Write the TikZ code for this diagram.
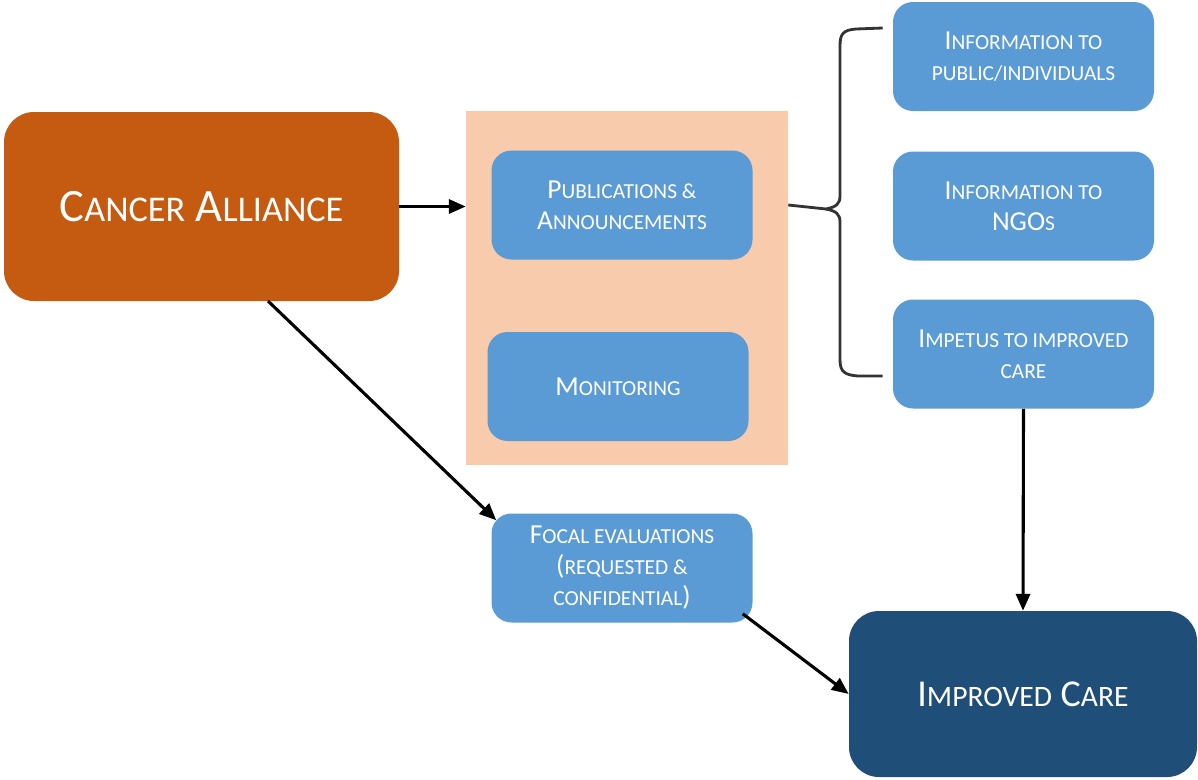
\documentclass[tikz,border=0pt]{standalone}
\usepackage{fontspec}
\usepackage{graphicx}
\setmainfont{Carlito}
\usetikzlibrary{arrows.meta}
\definecolor{orangeA}{HTML}{C55A11}
\definecolor{peach}{HTML}{F7CBAC}
\definecolor{blueA}{HTML}{5B9BD5}
\definecolor{navy}{HTML}{1F4E79}
\newcommand\lc[1]{\scalebox{0.78}{#1}}
\def\px{0.025cm}
\tikzset{
  box/.style={draw=none, fill=blueA, rounded corners=20*\px, text=white, align=center,
    inner sep=0pt, minimum width=261*\px, minimum height=109*\px,
    font=\fontsize{19.5}{22}\selectfont},
  bigbox/.style={draw=none, rounded corners=30*\px, text=white, align=center, inner sep=0pt},
  arr/.style={draw=black, line width=2.2pt, -{Triangle[length=12pt,width=10pt]}},
  brace/.style={draw=black!80, line width=2pt}
}
\begin{document}
\begin{tikzpicture}[x=0.025cm,y=-0.025cm]
\useasboundingbox (0,0) rectangle (1198,779);
% group background
\node[fill=peach, draw=none, minimum width=322*\px, minimum height=354*\px, inner sep=0pt] (group) at (627,288) {};
\node[bigbox, fill=orangeA, minimum width=395*\px, minimum height=189*\px,
  font=\fontsize{33}{38}\selectfont] (ca) at (201.5,206.5) {C\lc{ANCER} A\lc{LLIANCE}};
\node[box] (pub) at (622,205) {P\lc{UBLICATIONS \&}\\A\lc{NNOUNCEMENTS}};
\node[box] (mon) at (618,386.5) {M\lc{ONITORING}};
\node[box] (info1) at (1023.5,56.5) {I\lc{NFORMATION TO}\\\lc{PUBLIC/INDIVIDUALS}};
\node[box] (info2) at (1023.5,206) {I\lc{NFORMATION TO}\\NGO\lc{S}};
\node[box] (imp) at (1023.5,354) {I\lc{MPETUS TO IMPROVED}\\\lc{CARE}};
\node[box, font=\fontsize{19.5}{22}\selectfont] (focal) at (622,568) {F\lc{OCAL EVALUATIONS}\\(\lc{REQUESTED \&}\\\lc{CONFIDENTIAL})};
\node[bigbox, fill=navy, minimum width=348*\px, minimum height=166*\px,
  font=\fontsize{27}{32}\selectfont] (ic) at (1023,694) {I\lc{MPROVED} C\lc{ARE}};
% connectors
\draw[arr] (ca.east) -- (group.west |- ca.east);
\draw[arr] (268,301) -- ([shift={(5,7)}]focal.north west);
\draw[arr] ([shift={(-10,-9)}]focal.south east) -- (ic.west);
\draw[arr] (imp.south) -- (ic.north);
% brace
\coordinate (tip) at (group.east |- pub.east);
\coordinate (btop) at ([xshift=-10*\px]info1.west |- 0,28);
\coordinate (bbot) at ([xshift=-10*\px]imp.west |- 0,376);
\draw[brace] (btop) -- (856,29) .. controls (843,30) and (840,34) .. (840,46)
  -- (840,196) .. controls (840,204) and (836,207) .. (826,209) -- (tip);
\draw[brace] (826,209) .. controls (836,211) and (840,214) .. (840,222)
  -- (840,360) .. controls (840,372) and (845,375) .. (858,376) -- (bbot);
\end{tikzpicture}
\end{document}
